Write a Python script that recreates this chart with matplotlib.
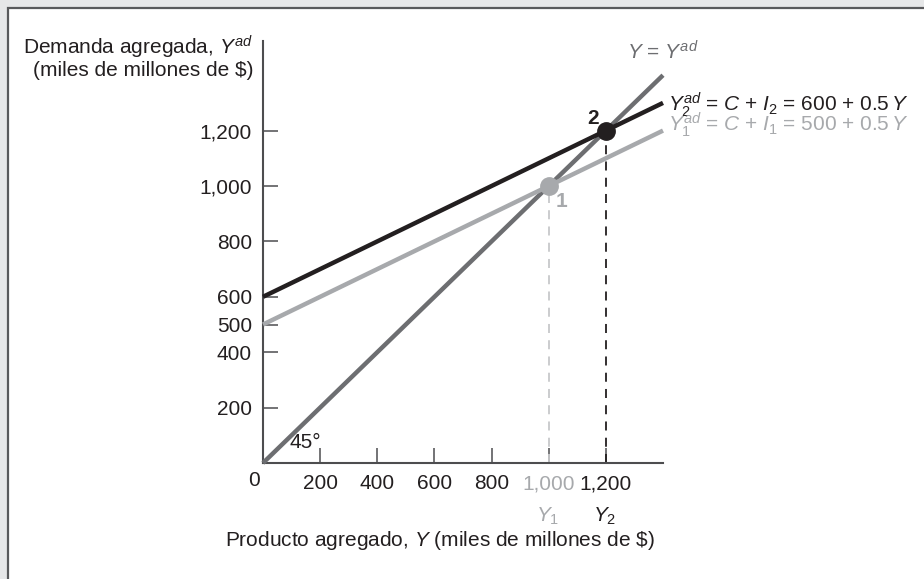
import matplotlib
matplotlib.use("Agg")
import matplotlib.pyplot as plt
from matplotlib.patches import Rectangle
import numpy as np

plt.rcParams["font.family"] = ["Liberation Sans", "DejaVu Sans"]
plt.rcParams["mathtext.fontset"] = "custom"
plt.rcParams["mathtext.rm"] = "Liberation Sans"
plt.rcParams["mathtext.it"] = "Liberation Sans:italic"
plt.rcParams["mathtext.bf"] = "Liberation Sans:bold"

# ── datos ─────────────────────────────────────
y_range = [0, 1400]
c_base = 0.5                 # propensión marginal a consumir
i_1 = 500                    # C + I1 autónomo
i_2 = 600                    # C + I2 autónomo
eq_1 = (1000, 1000)
eq_2 = (1200, 1200)
x_ticks = [200, 400, 600, 800, 1000, 1200]
x_labels = ["200", "400", "600", "800", "1,000", "1,200"]
y_ticks = [200, 400, 500, 600, 800, 1000, 1200]
y_labels = ["200", "400", "500", "600", "800", "1,000", "1,200"]

W, H = 924, 579
DARK = "#231f20"
MID = "#6d6e71"
LIGHT = "#a7a9ac"
FS = 15

fig = plt.figure(figsize=(W / 100, H / 100), dpi=100, facecolor="#e6e7e8")


def fx(px):
    return px / W


def fy(py):
    return 1 - py / H


# marco blanco
fig.patches.append(Rectangle((fx(8), -0.1), 1.2, fy(8) + 0.1, transform=fig.transFigure,
                             facecolor="white", edgecolor="#58595b", linewidth=1.6,
                             zorder=-10))

x0, y0 = 263, 463
xmax = 1400
ymax = 1525
ax = fig.add_axes([fx(x0), fy(y0), 400 / W, 0.277 * ymax / H])
ax.set_xlim(0, xmax)
ax.set_ylim(0, ymax)
ax.patch.set_alpha(0)

for s in ["top", "right"]:
    ax.spines[s].set_visible(False)
for s in ["left", "bottom"]:
    ax.spines[s].set_color("#4d4d4f")
    ax.spines[s].set_linewidth(1.5)

ax.set_xticks(x_ticks)
ax.set_xticklabels(x_labels, fontsize=FS, color=DARK)
ax.set_yticks(y_ticks)
ax.set_yticklabels(y_labels, fontsize=FS, color=DARK)
ax.tick_params(axis="x", direction="in", length=11, width=1.1, color="#4d4d4f", pad=8)
ax.tick_params(axis="y", direction="in", length=10.5, width=1.1, color="#4d4d4f", pad=8)
ax.get_xticklabels()[4].set_color(LIGHT)

xs = np.array(y_range)
ax.plot(xs, xs, color=MID, lw=3.2, solid_capstyle="butt", clip_on=False, zorder=3)
ax.plot(xs, i_1 + c_base * xs, color=LIGHT, lw=3.2, solid_capstyle="butt", clip_on=False, zorder=3)
ax.plot(xs, i_2 + c_base * xs, color=DARK, lw=3.2, solid_capstyle="butt", clip_on=False, zorder=4)

ax.plot([eq_1[0], eq_1[0]], [0, eq_1[1]], color="#c7c8ca", lw=1.3, ls=(0, (5, 4)), zorder=2)
ax.plot([eq_2[0], eq_2[0]], [0, eq_2[1]], color=DARK, lw=1.3, ls=(0, (5, 4)), zorder=2)

ax.plot(*eq_1, "o", ms=12.5, color=LIGHT, zorder=5, clip_on=False)
ax.plot(*eq_2, "o", ms=12.5, color=DARK, zorder=5, clip_on=False)
ax.text(eq_2[0] - 45, eq_2[1] + 45, "2", fontsize=FS, fontweight="bold", color=DARK,
        ha="center", va="center")
ax.text(eq_1[0] + 45, eq_1[1] - 55, "1", fontsize=FS, fontweight="bold", color=LIGHT,
        ha="center", va="center")

# textos
fig.text(fx(253), fy(47), r"Demanda agregada, $Y^{ad}$", fontsize=FS, color=DARK,
         ha="right", va="center")
fig.text(fx(253), fy(71), "(miles de millones de $)", fontsize=FS, color=DARK,
         ha="right", va="center")
fig.text(fx(254), fy(480), "0", fontsize=FS, color=DARK, ha="center", va="center")
fig.text(fx(290), fy(443), "45°", fontsize=FS, color=DARK, ha="left", va="center")
fig.text(fx(548), fy(516), r"$Y_1$", fontsize=FS, color=LIGHT, ha="center", va="center")
fig.text(fx(605), fy(516), r"$Y_2$", fontsize=FS, color=DARK, ha="center", va="center")
fig.text(fx(225), fy(541), r"Producto agregado, $Y$ (miles de millones de \$)", fontsize=FS,
         color=DARK, ha="left", va="center")
fig.text(fx(627), fy(52), r"$Y$ = $Y^{ad}$", fontsize=FS, color=MID, ha="left", va="center")
fig.text(fx(668), fy(105), r"$Y_2^{ad}$ = $C$ + $I_2$ = 600 + 0.5$\,Y$", fontsize=FS,
         color=DARK, ha="left", va="center")
fig.text(fx(668), fy(125), r"$Y_1^{ad}$ = $C$ + $I_1$ = 500 + 0.5$\,Y$", fontsize=FS,
         color=LIGHT, ha="left", va="center")

fig.savefig("out.png", dpi=100, facecolor=fig.get_facecolor())
